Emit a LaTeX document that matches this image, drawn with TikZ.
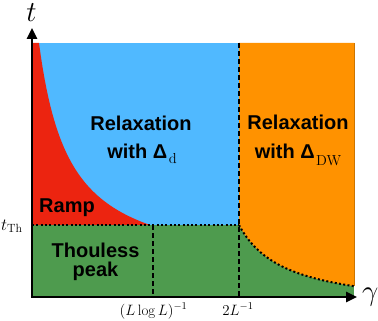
\RequirePackage{fix-cm}
\documentclass[tikz,border=0pt]{standalone}
\usepackage{fontspec}
\newfontfamily\hv{Liberation Sans}
\usetikzlibrary{arrows.meta}
\definecolor{cblue}{RGB}{80,185,255}
\definecolor{cred}{RGB}{236,36,16}
\definecolor{corange}{RGB}{255,146,0}
\definecolor{cgreen}{RGB}{78,155,78}
\newcommand{\lowsub}[2]{\hspace{1.5pt}\raisebox{-#1}{\fontsize{14.5}{15}\selectfont\rmfamily\mdseries #2}}
\begin{document}
\begin{tikzpicture}[x=1pt,y=-1pt,
  lab/.style={font=\hv\bfseries\fontsize{20}{22}\selectfont, inner sep=0pt, anchor=base},
  ticklab/.style={font=\fontsize{15}{16}\selectfont, inner sep=0pt, anchor=base},
  axislab/.style={font=\fontsize{29}{30}\selectfont, inner sep=0pt},
  axisline/.style={line width=2.5pt, -{Triangle[length=11pt,width=10pt]}},
  dashline/.style={line width=2.2pt, dash pattern=on 5pt off 3pt},
  dotline/.style={line width=2pt, dash pattern=on 2pt off 2.3pt}]
\useasboundingbox (0,0) rectangle (378,321);
% coordinates
\coordinate (O) at (32,297);
\coordinate (ytip) at (32,28);
\coordinate (xtip) at (357,297);
\coordinate (dwtop) at (239,43);
\coordinate (dwbot) at (239,297);
\coordinate (lltop) at (153,225);
\coordinate (llbot) at (153,297);
\coordinate (thl) at (32,225);
\coordinate (thr) at (239,225);
% regions
\fill[cblue] (32,43) rectangle (239,225);
\fill[cred] (32,43) -- (39,43) -- plot[domain=39:150, samples=60] (\x,{274.9-7062/(\x-8.55)}) -- (150,225) -- (32,225) -- cycle;
\fill[cgreen] (32,225) rectangle (354,297);
\fill[corange] (239,43) -- (354,43) -- (354,286.2) -- plot[domain=354:239, samples=60] (\x,{310.7-3949/(\x-192.9)}) -- cycle;
\draw[corange!80!black, line width=0.6pt] (354,43) -- (354,286.2);
% boundaries
\draw[dotline] (thl) -- (thr);
\draw[dotline] plot[domain=239:354, samples=60] (\x,{310.7-3949/(\x-192.9)});
\draw[dashline] (dwtop) -- (dwbot);
\draw[dashline] (lltop) -- (llbot);
% axes
\draw[axisline] (O) -- (ytip);
\draw[axisline] ([xshift=-1.25pt]O) -- (xtip);
\node[axislab, anchor=base] (tlab) at (31.5,22) {$t$};
\node[axislab, anchor=base west] (glab) at (362,300) {$\gamma$};
% region labels
\node[lab] (r1a) at (141,131) {Relaxation};
\node[lab] (r1b) at (142,158) {with Δ\lowsub{5pt}{d}};
\node[lab] (r2a) at (298,130) {Relaxation};
\node[lab] (r2b) at (298,158) {with Δ\lowsub{7pt}{DW}};
\node[lab, anchor=base west] (ramp) at (39,212) {Ramp};
\node[lab] (th1) at (95.5,257) {Thouless};
\node[lab] (th2) at (95.5,276) {peak};
% tick labels
\node[ticklab] (tll) at (153.5,315) {$(L\log L)^{-1}$};
\node[ticklab] (t2l) at (238,315) {$2L^{-1}$};
\node[inner sep=0pt, anchor=base west, font=\fontsize{17}{18}\selectfont] (tth) at (1,230) {$t_{\mathrm{Th}}$};
\end{tikzpicture}
\end{document}
